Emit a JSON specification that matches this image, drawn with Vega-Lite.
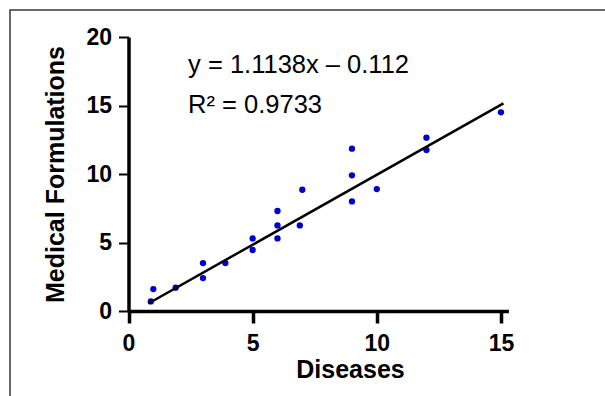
{
  "$schema": "https://vega.github.io/schema/vega-lite/v6.json",
  "width": 600,
  "height": 390,
  "autosize": "none",
  "padding": {"left": 10, "top": 10, "right": 0, "bottom": 0},
  "background": "white",
  "config": {"view": {"stroke": "#3a3a3a", "strokeWidth": 1.5}, "font": "Liberation Sans"},
  "datasets": {
    "points": [
      {"diseases": 0.9, "formulations": 0.7},
      {"diseases": 1.0, "formulations": 1.6},
      {"diseases": 1.9, "formulations": 1.7},
      {"diseases": 3.0, "formulations": 3.5},
      {"diseases": 3.0, "formulations": 2.4},
      {"diseases": 3.9, "formulations": 3.5},
      {"diseases": 5.0, "formulations": 5.3},
      {"diseases": 5.0, "formulations": 4.45},
      {"diseases": 6.0, "formulations": 7.3},
      {"diseases": 6.0, "formulations": 6.25},
      {"diseases": 6.0, "formulations": 5.3},
      {"diseases": 6.9, "formulations": 6.25},
      {"diseases": 7.0, "formulations": 8.85},
      {"diseases": 9.0, "formulations": 11.85},
      {"diseases": 9.0, "formulations": 9.9},
      {"diseases": 9.0, "formulations": 8.0},
      {"diseases": 10.0, "formulations": 8.9},
      {"diseases": 12.0, "formulations": 12.65},
      {"diseases": 12.0, "formulations": 11.75},
      {"diseases": 15.0, "formulations": 14.5}
    ],
    "fit": [
      {"diseases": 0.8, "formulations": 0.55},
      {"diseases": 15.1, "formulations": 15.15}
    ],
    "labels": [
      {"diseases": 2.4, "formulations": 17.35, "label": "y = 1.1138x – 0.112"},
      {"diseases": 2.4, "formulations": 14.43, "label": "R² = 0.9733"}
    ]
  },
  "layer": [
    {
      "data": {"name": "points"},
      "mark": {"type": "circle", "color": "#0000CC", "opacity": 1, "size": 40},
      "encoding": {
        "x": {
          "field": "diseases",
          "type": "quantitative",
          "scale": {"domain": [0, 15.3], "range": [118.5, 498.4], "nice": false, "zero": false},
          "axis": {
            "title": "Diseases",
            "values": [0, 5, 10, 15],
            "offset": -89,
            "grid": false,
            "domainColor": "black",
            "domainWidth": 3.5,
            "tickColor": "black",
            "tickWidth": 3.5,
            "tickSize": 12,
            "labelFlush": false,
            "labelFont": "Liberation Sans",
            "labelFontWeight": "bold",
            "labelFontSize": 23,
            "labelColor": "black",
            "labelPadding": 9,
            "titleFont": "Liberation Sans",
            "titleFontWeight": "bold",
            "titleFontSize": 25,
            "titleColor": "black",
            "titleX": 340,
            "titleY": 66,
            "titleAlign": "center",
            "titleBaseline": "alphabetic"
          }
        },
        "y": {
          "field": "formulations",
          "type": "quantitative",
          "scale": {"domain": [0, 20], "range": [301, 27], "nice": false, "zero": false},
          "axis": {
            "title": "Medical Formulations",
            "values": [0, 5, 10, 15, 20],
            "offset": -118.5,
            "grid": false,
            "domainColor": "black",
            "domainWidth": 3.5,
            "tickColor": "black",
            "tickWidth": 2,
            "tickSize": 10,
            "labelFlush": false,
            "labelFont": "Liberation Sans",
            "labelFontWeight": "bold",
            "labelFontSize": 23,
            "labelColor": "black",
            "labelPadding": 7,
            "titleFont": "Liberation Sans",
            "titleFontWeight": "bold",
            "titleFontSize": 25,
            "titleColor": "black",
            "titleAngle": -90,
            "titleX": -65,
            "titleY": 164,
            "titleAlign": "center",
            "titleBaseline": "alphabetic"
          }
        }
      }
    },
    {
      "data": {"name": "fit"},
      "mark": {"type": "line", "color": "black", "strokeWidth": 2.5},
      "encoding": {
        "x": {"field": "diseases", "type": "quantitative"},
        "y": {"field": "formulations", "type": "quantitative"}
      }
    },
    {
      "data": {"name": "labels"},
      "mark": {"type": "text", "align": "left", "baseline": "alphabetic", "fontSize": 25.5, "font": "Liberation Sans", "color": "black"},
      "encoding": {
        "x": {"field": "diseases", "type": "quantitative"},
        "y": {"field": "formulations", "type": "quantitative"},
        "text": {"field": "label", "type": "nominal"}
      }
    }
  ]
}
